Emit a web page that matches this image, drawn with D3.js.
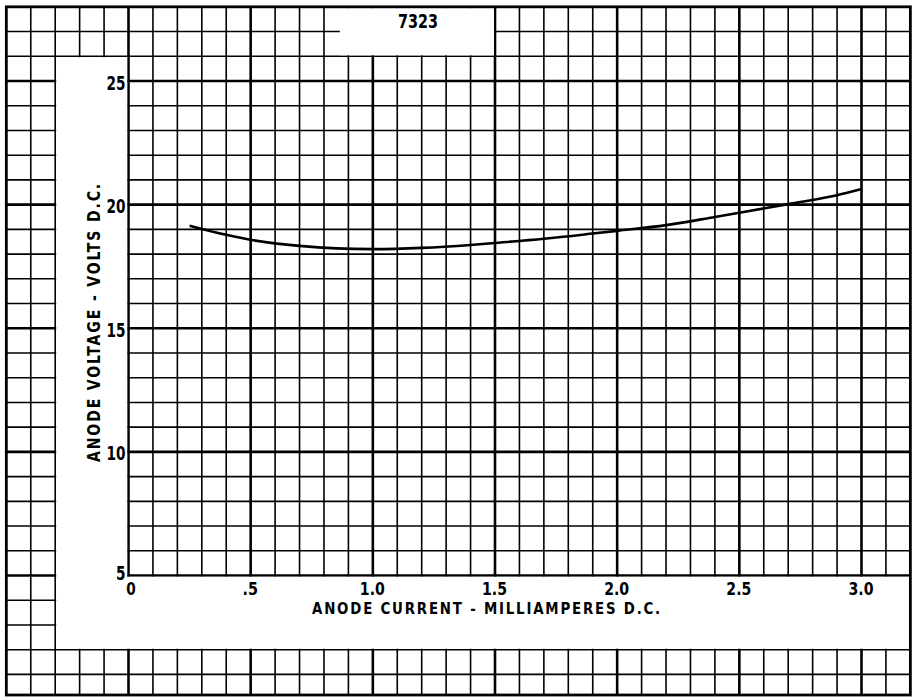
<!DOCTYPE html>
<html>
<head>
<meta charset="utf-8">
<script src="https://cdn.jsdelivr.net/npm/d3@7"></script>
<style>
  html, body { margin: 0; padding: 0; background: #fff; }
  svg { display: block; }
  text { font-family: "DejaVu Sans Condensed", "DejaVu Sans", sans-serif; font-weight: bold; fill: #000; }
</style>
</head>
<body>
<svg width="916" height="699"></svg>
<script>
  // curve (mA, volts)
  var current = [0.25, 0.4, 0.5, 0.7, 0.85, 1.0, 1.2, 1.4, 1.5, 1.7, 1.9, 2.0, 2.2, 2.4, 2.5, 2.7, 2.9, 3.0];
  var voltage = [19.15, 18.78, 18.58, 18.33, 18.23, 18.2, 18.25, 18.37, 18.45, 18.62, 18.83, 18.94, 19.17, 19.5, 19.67, 20.02, 20.38, 20.63];

  var xTicks = [0, 0.5, 1.0, 1.5, 2.0, 2.5, 3.0];
  var xTickLabels = ["0", ".5", "1.0", "1.5", "2.0", "2.5", "3.0"];
  var yTicks = [5, 10, 15, 20, 25];
  var yTickLabels = ["5", "10", "15", "20", "25"];

  var title = "7323";
  var xTitle = "ANODE CURRENT - MILLIAMPERES D.C.";
  var yTitle = "ANODE VOLTAGE - VOLTS D.C.";

  var svg = d3.select('svg');

  var x = d3.scaleLinear().domain([0, 3]).range([128.5, 861.5]);
  var y = d3.scaleLinear().domain([5, 25]).range([575.5, 81]);

  var sheetL = x(-0.5), sheetR = x(3.2), sheetT = y(28), sheetB = 695;

  // narrow lettering: squeeze each label to the width it has on the sheet
  function labelWidth(s) {
    return s.split('').reduce((w, c) => w + (c === '.' ? 6 : 9.5), 0);
  }

  // graph paper
  var grid = svg.append('g').attr('class', 'grid');
  var vx = d3.range(-4, 32).map(i => i / 10);
  var hy = d3.range(1, 28);

  grid.selectAll('line.v')
    .data(vx)
    .enter().append('line')
    .attr('x1', d => x(d)).attr('x2', d => x(d))
    .attr('y1', sheetT).attr('y2', sheetB)
    .attr('stroke', '#000')
    .attr('stroke-width', d => Math.abs(Math.round(d * 10) % 5) === 0 ? 2.6 : 1.6);

  grid.selectAll('line.h')
    .data(hy)
    .enter().append('line')
    .attr('x1', sheetL).attr('x2', sheetR)
    .attr('y1', d => y(d)).attr('y2', d => y(d))
    .attr('stroke', '#000')
    .attr('stroke-width', d => d % 5 === 0 ? 2.6 : 1.6);

  // blank areas of the sheet
  var mask = [
    [x(-0.3) + 1, y(26) + 1],
    [x(0) - 1.3, y(26) + 1],
    [x(0) - 1.3, y(5) + 1.3],
    [sheetR - 1.3, y(5) + 1.3],
    [sheetR - 1.3, y(2) - 1],
    [x(-0.3) + 1, y(2) - 1]
  ];
  svg.append('path')
    .attr('d', d3.line()(mask) + 'Z')
    .attr('fill', '#fff');

  svg.append('rect')
    .attr('x', x(0.865))
    .attr('y', sheetT + 1.3)
    .attr('width', x(1.5) - 1 - x(0.865))
    .attr('height', y(26) - 1 - sheetT - 1.3)
    .attr('fill', '#fff');

  svg.append('rect')
    .attr('x', sheetL).attr('y', sheetT)
    .attr('width', sheetR - sheetL).attr('height', sheetB - sheetT)
    .attr('fill', 'none')
    .attr('stroke', '#000')
    .attr('stroke-width', 2.8);

  // ticks
  var xAxis = svg.append('g')
    .attr('transform', `translate(0,${y(5)})`)
    .call(d3.axisBottom(x).tickValues(xTicks).tickFormat((d, i) => xTickLabels[i]).tickSize(0).tickPadding(19.5));
  xAxis.select('.domain').remove();
  xAxis.attr('font-family', null).attr('font-size', null);
  xAxis.selectAll('text')
    .style('font-size', '17px')
    .attr('dy', 0)
    .attr('dx', d => d === 0 ? 2 : -1)
    .attr('textLength', d => labelWidth(xTickLabels[xTicks.indexOf(d)]))
    .attr('lengthAdjust', 'spacingAndGlyphs');

  var yAxis = svg.append('g')
    .attr('transform', `translate(${x(0) - 3},0)`)
    .call(d3.axisLeft(y).tickValues(yTicks).tickFormat((d, i) => yTickLabels[i]).tickSize(0).tickPadding(0));
  yAxis.select('.domain').remove();
  yAxis.attr('font-family', null).attr('font-size', null);
  yAxis.selectAll('text')
    .style('font-size', '20px')
    .attr('dy', d => d === 5 ? '0.22em' : '0.4em')
    .attr('textLength', d => labelWidth(yTickLabels[yTicks.indexOf(d)]))
    .attr('lengthAdjust', 'spacingAndGlyphs');

  // titles
  svg.append('text')
    .attr('x', 398).attr('y', 28)
    .attr('textLength', 40)
    .attr('lengthAdjust', 'spacingAndGlyphs')
    .style('font-size', '19px')
    .text(title);

  svg.append('text')
    .attr('x', 312).attr('y', 614)
    .attr('textLength', 350)
    .attr('lengthAdjust', 'spacingAndGlyphs')
    .style('font-size', '16.5px')
    .style('letter-spacing', '2px')
    .text(xTitle);

  svg.append('text')
    .attr('transform', 'translate(100,462) rotate(-90)')
    .attr('textLength', 280)
    .attr('lengthAdjust', 'spacingAndGlyphs')
    .style('font-size', '17px')
    .style('letter-spacing', '2px')
    .text(yTitle);

  // the curve
  var pts = current.map((c, i) => [c, voltage[i]]);
  svg.append('path')
    .datum(pts)
    .attr('fill', 'none')
    .attr('stroke', '#000')
    .attr('stroke-width', 2.6)
    .attr('d', d3.line().x(d => x(d[0])).y(d => y(d[1])).curve(d3.curveMonotoneX));
</script>
</body>
</html>
